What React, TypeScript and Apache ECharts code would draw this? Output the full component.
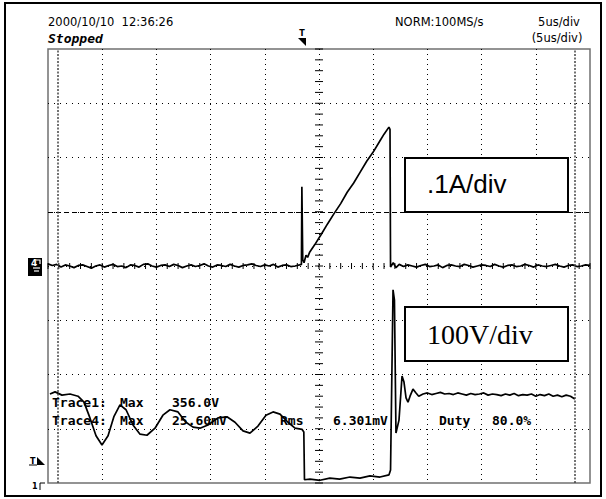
import React, { useEffect, useRef } from 'react';
import * as echarts from 'echarts';

// Time axis in microseconds (5 us/div, 10 div)
const timeMinUs = 0;
const timeMaxUs = 50;
const timeDivUs = 5;
// Trace 1 (voltage), 100 V/div, ground at bottom of screen
const voltMin = 0;
const voltMax = 800;
const voltDiv = 100;
// Trace 4 (current), 0.1 A/div, ground at screen centre
const ampMin = -0.4;
const ampMax = 0.4;

const headerLeft = ['2000/10/10  12:36:26', 'Stopped'];
const headerRight = ['NORM:100MS/s', '5us/div', '(5us/div)'];
const measRow1 = ['Trace1:', 'Max', '356.0V'];
const measRow2 = ['Trace4:', 'Max', '25.60mV', 'Rms', '6.301mV', 'Duty', '80.0%'];
const scaleLabels = ['.1A/div', '100V/div'];

const cursorTimesUs = [0.92, 48.6];
const triggerLevelA = 0.1;

const trace4Current: [number, number][] = [
  [0.0, 0.004], [0.4, 0.001], [0.8, 0.003], [1.2, -0.002], [1.6, 0.002], [2.0, 0.0], [2.4, -0.003], [2.8, 0.001], [3.2, 0.002], [3.6, -0.001],
  [4.0, -0.004], [4.4, 0.0], [4.8, 0.002], [5.2, -0.002], [5.6, 0.001], [6.0, 0.003], [6.4, -0.001], [6.8, 0.0], [7.2, -0.003], [7.6, 0.002],
  [8.0, 0.001], [8.4, -0.002], [8.8, 0.003], [9.2, 0.004], [9.6, 0.0], [10.0, -0.002], [10.4, 0.001], [10.8, 0.002], [11.2, -0.001], [11.6, 0.003],
  [12.0, 0.001], [12.4, -0.003], [12.8, 0.0], [13.2, 0.002], [13.6, -0.001], [14.0, 0.001], [14.4, 0.004], [14.8, 0.0], [15.2, -0.002], [15.6, 0.002],
  [16.0, 0.001], [16.4, -0.001], [16.8, 0.003], [17.2, 0.0], [17.6, -0.002], [18.0, 0.001], [18.4, 0.002], [18.8, 0.004], [19.2, 0.001], [19.6, -0.001],
  [20.0, 0.002], [20.4, 0.0], [20.8, 0.003], [21.2, -0.002], [21.6, 0.001], [22.0, 0.002], [22.4, -0.001], [22.8, 0.0], [23.2, 0.002],
  [23.38, 0.003], [23.42, 0.146], [23.5, 0.012], [23.62, 0.006], [23.8, 0.020], [23.95, 0.016], [24.15, 0.026],
  [24.6, 0.039], [25.2, 0.058], [25.8, 0.078], [26.4, 0.097], [27.0, 0.115], [27.6, 0.136], [28.2, 0.153], [28.8, 0.173],
  [29.4, 0.193], [30.0, 0.210], [30.6, 0.230], [31.0, 0.243], [31.45, 0.256],
  [31.55, 0.252], [31.6, -0.002], [31.85, 0.006], [32.1, -0.003],
  [32.4, 0.003], [32.8, -0.001], [33.2, 0.002], [33.6, 0.0], [34.0, -0.002], [34.4, 0.001], [34.8, 0.003], [35.2, -0.001], [35.6, 0.0], [36.0, 0.002],
  [36.4, -0.003], [36.8, 0.001], [37.2, 0.002], [37.6, 0.0], [38.0, -0.001], [38.4, 0.003], [38.8, 0.001], [39.2, -0.002], [39.6, 0.0], [40.0, 0.002],
  [40.4, 0.001], [40.8, -0.001], [41.2, 0.003], [41.6, 0.0], [42.0, -0.002], [42.4, 0.001], [42.8, 0.002], [43.2, -0.001], [43.6, 0.0], [44.0, 0.003],
  [44.4, 0.001], [44.8, -0.002], [45.2, 0.002], [45.6, 0.0], [46.0, -0.001], [46.4, 0.001], [46.8, 0.003], [47.2, 0.0], [47.6, -0.002], [48.0, 0.001],
  [48.4, 0.002], [48.8, -0.001], [49.2, 0.0], [49.6, 0.002], [50.0, 0.001],
];

const trace1Voltage: [number, number][] = [
  [0.18, 164], [0.65, 168], [1.29, 162], [2.03, 164], [2.77, 160], [3.32, 149], [3.87, 120], [4.43, 87], [4.98, 70],
  [5.54, 87], [6.09, 123], [6.64, 144], [7.2, 135], [7.84, 107], [8.49, 90], [9.13, 88], [9.87, 101], [10.6, 125],
  [11.25, 135], [11.99, 131], [12.73, 112], [13.38, 103], [14.02, 101], [14.76, 107], [15.68, 120], [16.51, 122],
  [17.25, 112], [17.99, 96], [18.63, 92], [19.37, 105], [20.11, 125], [20.76, 131], [21.4, 127], [22.14, 112],
  [22.79, 101], [23.43, 99], [23.6, 94], [23.66, 6],
  [24.17, 7], [25.09, 5], [26.0, 9], [26.9, 7], [27.86, 11], [28.78, 9], [29.7, 13], [30.63, 11], [31.46, 15],
  [31.6, 24], [31.83, 356], [31.96, 337], [32.1, 92], [32.38, 116], [32.66, 197], [32.84, 186], [33.03, 157],
  [33.21, 149], [33.4, 160], [33.67, 173], [33.95, 166], [34.2, 160],
  [34.6, 164], [35.0, 166], [35.4, 163], [35.8, 165], [36.2, 167], [36.6, 164], [37.0, 165], [37.4, 163], [37.8, 166],
  [38.2, 164], [38.6, 162], [39.0, 165], [39.4, 163], [39.8, 164], [40.2, 166], [40.6, 162], [41.0, 164], [41.4, 163],
  [41.8, 161], [42.2, 164], [42.6, 162], [43.0, 165], [43.4, 161], [43.8, 163], [44.2, 162], [44.6, 164], [45.0, 160],
  [45.4, 163], [45.8, 161], [46.2, 164], [46.6, 160], [47.0, 162], [47.4, 159], [47.8, 162], [48.2, 160], [48.6, 155],
];

const W = 606;
const H = 499;

export default function App() {
  const ref = useRef<HTMLDivElement>(null);

  useEffect(() => {
    if (!ref.current) return;
    const chart = echarts.init(ref.current, null, { renderer: 'svg', width: W, height: H });

    // graticule minor ticks on the centre cross (scale decoration)
    const centreTicks: number[][] = [];
    for (let t = timeMinUs; t <= timeMaxUs + 1e-9; t += timeDivUs / 5) centreTicks.push([t, (voltMin + voltMax) / 2, 0]);
    for (let v = voltMin; v <= voltMax + 1e-9; v += voltDiv / 5) centreTicks.push([(timeMinUs + timeMaxUs) / 2, v, 1]);

    const dotted = { color: '#000', width: 1, type: [1, 4] as number[] };
    const cursorStyle = { color: '#444', width: 1.5, type: [2, 1.5] as number[] };

    const hdr = (text: string, x: number, y: number, extra: any = {}) => ({
      type: 'text', x, y, z: 100,
      style: { text, fill: '#000', fontFamily: 'DejaVu Sans', fontSize: 11.5, verticalAlign: 'middle', ...extra },
    });
    const mono = (text: string, x: number, y: number) => ({
      type: 'text', x, y, z: 100,
      style: { text, fill: '#000', fontFamily: 'DejaVu Sans Mono', fontWeight: 'bold', fontSize: 13, verticalAlign: 'middle' },
    });
    const row1X = [52, 120, 172];
    const row2X = [52, 120, 172, 280, 333, 439, 492];

    const option: any = {
      animation: false,
      backgroundColor: '#fff',
      grid: { left: 48, top: 49, width: 542, height: 434, show: true, borderColor: '#707070', borderWidth: 1.5 },
      xAxis: {
        type: 'value', min: timeMinUs, max: timeMaxUs, interval: timeDivUs,
        axisLine: { show: false }, axisTick: { show: false }, axisLabel: { show: false },
        splitLine: { show: true, showMinLine: false, showMaxLine: false, lineStyle: dotted },
      },
      yAxis: [
        {
          type: 'value', min: voltMin, max: voltMax, interval: voltDiv,
          axisLine: { show: false }, axisTick: { show: false }, axisLabel: { show: false },
          splitLine: { show: true, showMinLine: false, showMaxLine: false, lineStyle: { ...dotted, type: [1, 5] } },
        },
        { type: 'value', min: ampMin, max: ampMax, show: false, splitLine: { show: false } },
      ],
      series: [
        {
          type: 'custom', name: 'graticule', coordinateSystem: 'cartesian2d', xAxisIndex: 0, yAxisIndex: 0,
          encode: { x: 0, y: 1 }, silent: true, data: centreTicks, z: 1,
          renderItem: (_p: any, api: any) => {
            const pt = api.coord([api.value(0), api.value(1)]);
            const vertical = api.value(2) === 0;
            return {
              type: 'line',
              shape: vertical
                ? { x1: pt[0], y1: pt[1] - 3, x2: pt[0], y2: pt[1] + 3 }
                : { x1: pt[0] - 4, y1: pt[1], x2: pt[0] + 4, y2: pt[1] },
              style: { stroke: '#000', lineWidth: 1 },
            };
          },
        },
        {
          type: 'line', name: 'Trace4', yAxisIndex: 1, data: trace4Current, showSymbol: false, z: 3,
          lineStyle: { color: '#000', width: 1.7 },
          markLine: {
            silent: true, symbol: 'none', label: { show: false },
            data: [
              { yAxis: triggerLevelA, lineStyle: { color: '#000', width: 1, type: [5, 3] } },
              { xAxis: cursorTimesUs[0], lineStyle: cursorStyle },
              { xAxis: cursorTimesUs[1], lineStyle: cursorStyle },
            ],
          },
        },
        {
          type: 'line', name: 'Trace1', yAxisIndex: 0, data: trace1Voltage, showSymbol: false, z: 3,
          lineStyle: { color: '#000', width: 1.7 },
        },
      ],
      graphic: [
        { type: 'rect', z: 100, shape: { x: 5, y: 3, width: 596, height: 493 }, style: { fill: 'none', stroke: '#000', lineWidth: 2 } },
        hdr(headerLeft[0], 48, 22),
        { type: 'text', x: 48, y: 38, z: 100, style: { text: headerLeft[1], fill: '#000', fontFamily: 'DejaVu Sans Mono', fontStyle: 'italic', fontWeight: 'bold', fontSize: 13, verticalAlign: 'middle' } },
        hdr(headerRight[0], 395, 22),
        hdr(headerRight[1], 559, 22, { align: 'center' }),
        hdr(headerRight[2], 557, 38, { align: 'center' }),
        // trigger position marker
        { type: 'text', x: 302, y: 33, z: 100, style: { text: 'T', fill: '#000', fontFamily: 'DejaVu Sans', fontWeight: 'bold', fontSize: 8, align: 'center', verticalAlign: 'middle' } },
        { type: 'polygon', z: 100, shape: { points: [[298, 38], [306, 38], [306, 46]] }, style: { fill: '#000' } },
        // trace 4 ground marker
        { type: 'rect', z: 100, shape: { x: 28, y: 258, width: 14, height: 18 }, style: { fill: '#000' } },
        { type: 'text', x: 31, y: 263, z: 101, style: { text: '4', fill: '#fff', fontFamily: 'DejaVu Sans', fontWeight: 'bold', fontSize: 9, verticalAlign: 'middle' } },
        { type: 'polyline', z: 101, shape: { points: [[36, 260], [40, 260], [40, 264]] }, style: { stroke: '#fff', lineWidth: 1.2, fill: 'none' } },
        { type: 'line', z: 101, shape: { x1: 33, y1: 268, x2: 40, y2: 268 }, style: { stroke: '#fff', lineWidth: 1.2 } },
        { type: 'line', z: 101, shape: { x1: 34, y1: 271, x2: 39, y2: 271 }, style: { stroke: '#fff', lineWidth: 1.2 } },
        // trigger level marker and trace 1 ground marker
        { type: 'text', x: 30, y: 461, z: 100, style: { text: 'T', fill: '#000', fontFamily: 'DejaVu Sans', fontWeight: 'bold', fontSize: 8, verticalAlign: 'middle' } },
        { type: 'line', z: 100, shape: { x1: 29, y1: 465, x2: 37, y2: 465 }, style: { stroke: '#000', lineWidth: 1 } },
        { type: 'polygon', z: 100, shape: { points: [[37, 457], [45, 465], [37, 465]] }, style: { fill: '#000' } },
        { type: 'text', x: 32, y: 486, z: 100, style: { text: '1', fill: '#000', fontFamily: 'DejaVu Sans', fontWeight: 'bold', fontSize: 8, verticalAlign: 'middle' } },
        { type: 'polyline', z: 100, shape: { points: [[40, 490], [40, 483], [45, 483]] }, style: { stroke: '#000', lineWidth: 1, fill: 'none' } },
        // scale boxes
        { type: 'rect', z: 100, shape: { x: 405, y: 158, width: 163, height: 54 }, style: { fill: '#fff', stroke: '#000', lineWidth: 2 } },
        { type: 'text', x: 427, y: 184, z: 101, style: { text: scaleLabels[0], fill: '#000', fontFamily: 'Liberation Sans', fontSize: 26, verticalAlign: 'middle' } },
        { type: 'rect', z: 100, shape: { x: 405, y: 307, width: 163, height: 54 }, style: { fill: '#fff', stroke: '#000', lineWidth: 2 } },
        { type: 'text', x: 427, y: 334, z: 101, style: { text: scaleLabels[1], fill: '#000', fontFamily: 'Liberation Serif', fontSize: 28, verticalAlign: 'middle' } },
        ...measRow1.map((s, i) => mono(s, row1X[i], 402)),
        ...measRow2.map((s, i) => mono(s, row2X[i], 420)),
      ],
    };
    chart.setOption(option);
    return () => chart.dispose();
  }, []);

  return <div ref={ref} style={{ position: 'absolute', left: 0, top: 0, width: W, height: H }} />;
}
